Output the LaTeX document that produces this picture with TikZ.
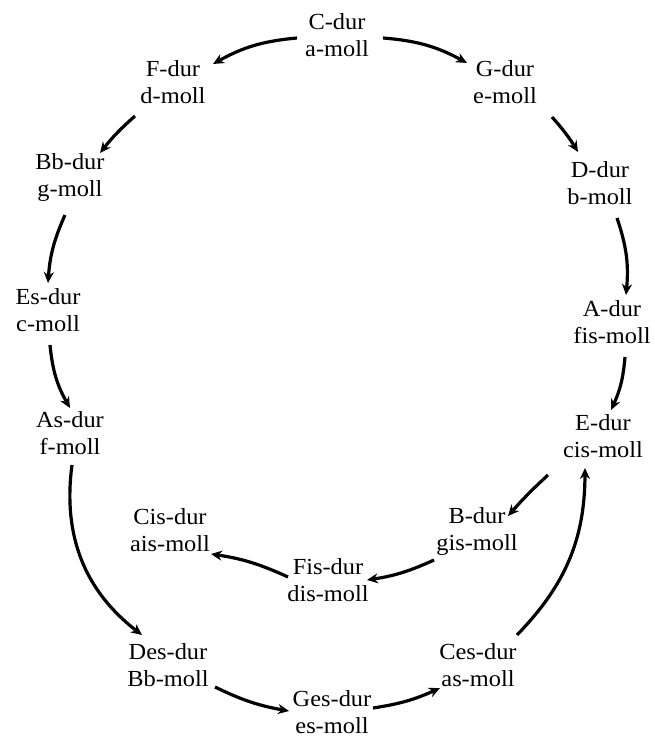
\documentclass[tikz,border=0pt]{standalone}
\usepackage{fontspec}
\setmainfont{Liberation Serif}[FakeStretch=1.06]
\usetikzlibrary{arrows.meta,calc}
\begin{document}
\begin{tikzpicture}[x=1pt,y=1pt,
  key/.style={align=center,inner sep=0pt,font=\fontsize{23}{27}\selectfont},
  arr/.style={line width=3.2pt,-{Stealth[length=11pt,width=10pt]}}]
\useasboundingbox (0,0) rectangle (655,737);
\node[key] (C)   at (337,702) {C-dur\\a-moll};
\node[key] (F)   at (173,655) {F-dur\\d-moll};
\node[key] (G)   at (505,655) {G-dur\\e-moll};
\node[key] (Bb)  at (70,559)  {Bb-dur\\g-moll};
\node[key] (D)   at (600,554) {D-dur\\b-moll};
\node[key] (Es)  at (48,427)  {Es-dur\\c-moll};
\node[key] (A)   at (612,415) {A-dur\\fis-moll};
\node[key] (As)  at (70,304)  {As-dur\\f-moll};
\node[key] (E)   at (603,301) {E-dur\\cis-moll};
\node[key] (Cis) at (170,207) {Cis-dur\\ais-moll};
\node[key] (B)   at (477,205) {B-dur\\gis-moll};
\node[key] (Fis) at (328,157) {Fis-dur\\dis-moll};
\node[key] (Des) at (168,72)  {Des-dur\\Bb-moll};
\node[key] (Ges) at (332,25)  {Ges-dur\\es-moll};
\node[key] (Ces) at (478,72)  {Ces-dur\\as-moll};

\draw[arr] ($(C)+(-40,-3)$) to[bend right=12] ($(F)+(40,18)$);
\draw[arr] ($(C)+(46,-3)$) to[bend left=12] ($(G)+(-38,19)$);
\draw[arr] ($(F)+(-38,-34)$) to[bend right=5] ($(Bb)+(30,25)$);
\draw[arr] ($(G)+(47,-35)$) to[bend left=5] ($(D)+(-22,31)$);
\draw[arr] ($(Bb)+(-5,-37)$) to[bend right=10] ($(Es)+(0,27)$);
\draw[arr] ($(Es)+(2,-35)$) to[bend right=12] ($(As)+(0,25)$);
\draw[arr] ($(D)+(17,-35)$) to[bend left=12] ($(A)+(14,27)$);
\draw[arr] ($(A)+(13,-35)$) to[bend left=10] ($(E)+(8,26)$);
\draw[arr] ($(As)+(2,-32)$) to[bend right=30] ($(Des)+(-26,30)$);
\draw[arr] ($(E)+(-55,-39)$) to[bend right=3] ($(B)+(31,16)$);
\draw[arr] ($(B)+(-43,-28)$) to[bend left=8] ($(Fis)+(39,0)$);
\draw[arr] ($(Fis)+(-40,3)$) to[bend right=8] ($(Cis)+(41,-24)$);
\draw[arr] ($(Des)+(47,-22)$) to[bend right=8] ($(Ges)+(-43,1)$);
\draw[arr] ($(Ges)+(41,4)$) to[bend right=8] ($(Ces)+(-38,-23)$);
\draw[arr] ($(Ces)+(39,30)$) to[bend right=22] ($(E)+(-18,-32)$);
\end{tikzpicture}
\end{document}
